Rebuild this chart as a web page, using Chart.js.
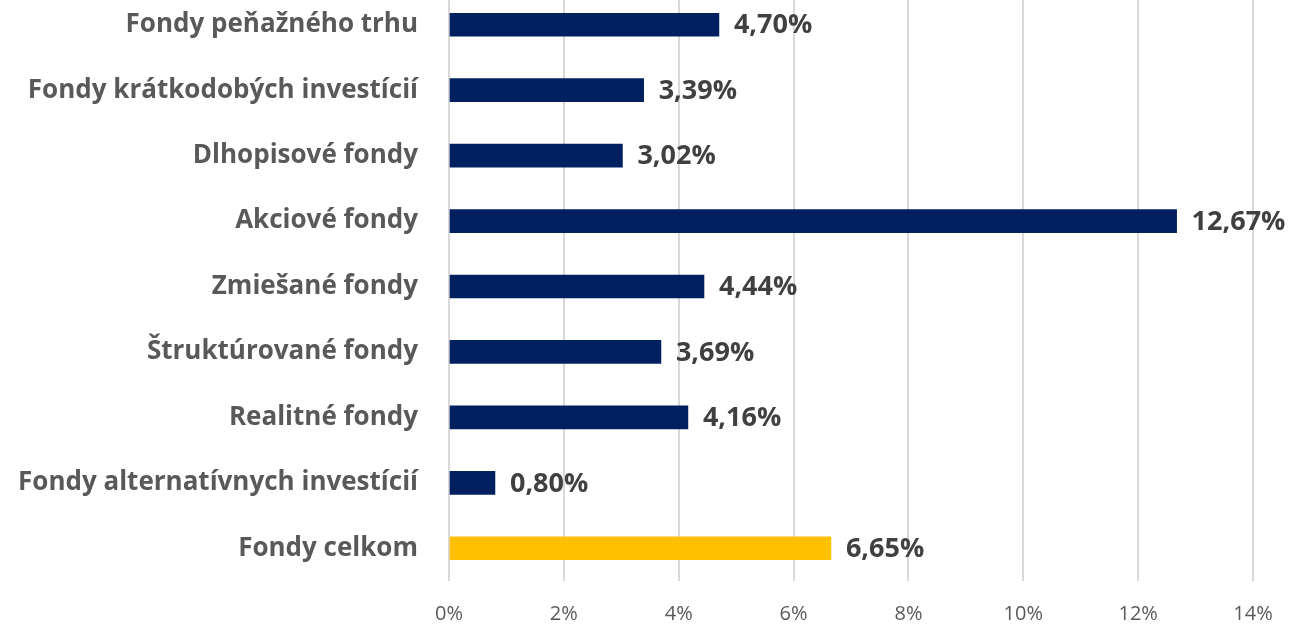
<!DOCTYPE html>
<html>
<head>
<meta charset="utf-8">
<script src="https://cdn.jsdelivr.net/npm/chart.js@4/dist/chart.umd.min.js"></script>
<style>
html,body{margin:0;padding:0;background:#fff;overflow:hidden;}
#wrap{position:absolute;left:0;top:-8px;width:1297px;height:632px;}
</style>
</head>
<body>
<div id="wrap"><canvas id="c" width="1297" height="632"></canvas></div>
<script>
const categories = [
  "Fondy peňažného trhu",
  "Fondy krátkodobých investícií",
  "Dlhopisové fondy",
  "Akciové fondy",
  "Zmiešané fondy",
  "Štruktúrované fondy",
  "Realitné fondy",
  "Fondy alternatívnych investícií",
  "Fondy celkom"
];
const values = [4.70, 3.39, 3.02, 12.67, 4.44, 3.69, 4.16, 0.80, 6.65];
const barColors = ["#002060","#002060","#002060","#002060","#002060","#002060","#002060","#002060","#FFC000"];
const xTickMax = 14;
const xTickStep = 2;

const FONT = "'Open Sans', sans-serif";

const valueLabels = {
  id: 'valueLabels',
  afterDatasetsDraw(chart) {
    const ctx = chart.ctx;
    const meta = chart.getDatasetMeta(0);
    ctx.save();
    ctx.font = "bold 27px " + FONT;
    ctx.fillStyle = "#404040";
    ctx.textAlign = "left";
    ctx.textBaseline = "middle";
    meta.data.forEach((bar, i) => {
      const txt = values[i].toFixed(2).replace('.', ',') + '%';
      ctx.fillText(txt, bar.x + 15, bar.y + 1);
    });
    ctx.restore();
  }
};

new Chart(document.getElementById('c'), {
  type: 'bar',
  data: {
    labels: categories,
    datasets: [{
      data: values,
      backgroundColor: barColors,
      barThickness: 23
    }]
  },
  options: {
    indexAxis: 'y',
    responsive: false,
    animation: false,
    layout: { padding: { left: 0, right: 44, top: 0, bottom: 0 } },
    plugins: { legend: { display: false }, tooltip: { enabled: false } },
    scales: {
      x: {
        min: 0, max: xTickMax,
        ticks: {
          stepSize: xTickStep,
          color: "#595959",
          font: { family: FONT, size: 20 },
          padding: 21,
          maxRotation: 0,
          callback: v => v + '%'
        },
        grid: { color: "#d9d9d9", lineWidth: 2, drawTicks: false },
        border: { display: false },
        afterFit: s => { s.height = 43; s.paddingLeft = 0; s.paddingRight = 0; }
      },
      y: {
        ticks: {
          color: "#595959",
          font: { family: FONT, size: 26, weight: 'bold' },
          padding: 31,
          autoSkip: false
        },
        grid: { display: false, drawTicks: false },
        border: { display: false },
        afterFit: s => { s.width = 449; s.paddingTop = 0; s.paddingBottom = 0; }
      }
    }
  },
  plugins: [valueLabels]
});
</script>
</body>
</html>
